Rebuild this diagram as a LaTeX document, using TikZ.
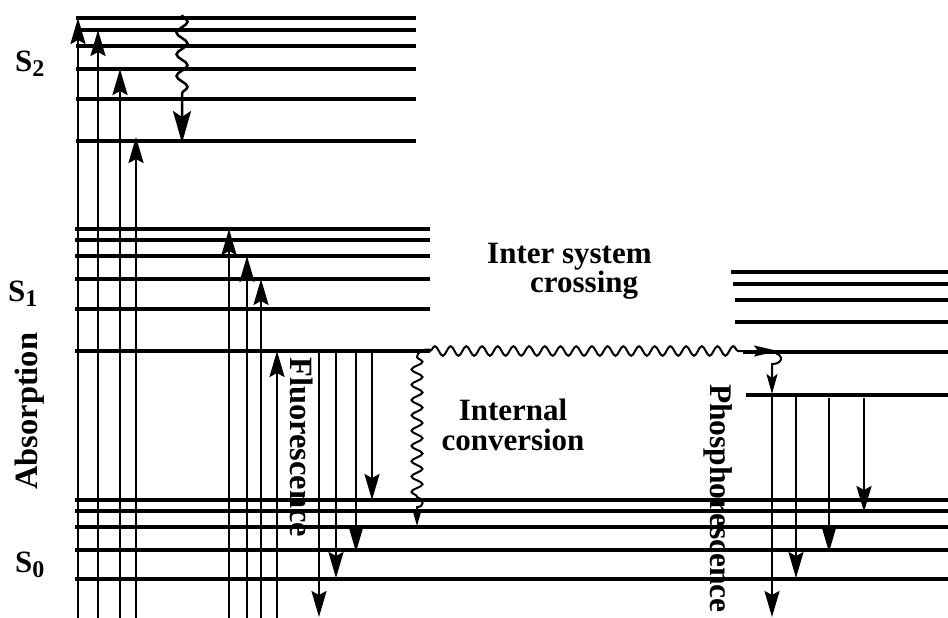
\documentclass[tikz,border=0pt]{standalone}
\usepackage{fontspec}
\setmainfont{Liberation Serif}
\usetikzlibrary{arrows.meta,decorations.pathmorphing}
\begin{document}
\begin{tikzpicture}[x=1pt,y=-1pt,
  lvl/.style={line width=3.5pt},
  arr/.style={line width=2.5pt,-{Stealth[length=26pt,width=15pt,inset=4pt]}},
  wavy/.style={line width=2pt},
  lbl/.style={font=\fontsize{31}{30}\selectfont\bfseries,inner sep=0pt},
  rlbl/.style={font=\fontsize{32.5}{30}\selectfont\bfseries,inner sep=0pt}
]
\useasboundingbox (0,0) rectangle (948,618);
\newcommand{\subnum}[1]{\raisebox{-5pt}{\fontsize{24}{24}\selectfont #1}}
% S2 levels
\foreach \y in {18,30,46,69,99,141} \draw[lvl] (76,\y) -- (416,\y);
% S1 levels
\foreach \y in {229,240,256,279,309,351} \draw[lvl] (75,\y) -- (430,\y);
% S0 levels
\foreach \y in {500,511,527,550,579} \draw[lvl] (75,\y) -- (948,\y);
% T1 levels
\draw[lvl] (731,272) -- (948,272);
\draw[lvl] (733,284) -- (948,284);
\draw[lvl] (735,300) -- (948,300);
\draw[lvl] (735,322) -- (948,322);
\draw[lvl] (743,352) -- (948,352);
\draw[lvl] (746,395) -- (948,395);
% absorption to S2
\draw[arr] (78,618) -- (78,18);
\draw[arr] (98,618) -- (98,30);
\draw[arr] (120,618) -- (120,69);
\draw[arr] (136,618) -- (136,137);
% absorption to S1
\draw[arr] (229,618) -- (229,229);
\draw[arr] (247,618) -- (247,256);
\draw[arr] (261,618) -- (261,279);
\draw[arr] (277,618) -- (277,351);
% fluorescence
\draw[arr] (319,351) -- (319,617);
\draw[arr] (336,351) -- (336,578);
\draw[arr] (356,351) -- (356,552);
\draw[arr] (372,351) -- (372,500);
% phosphorescence
\draw[arr] (772,395) -- (772,617);
\draw[arr] (796,395) -- (796,578);
\draw[arr] (829,398) -- (829,552);
\draw[arr] (864,398) -- (864,512);
% vibrational relaxation in S2
\draw[line width=2.5pt,-{Stealth[length=32pt,width=18pt,inset=6pt]}]
  (182,15) decorate[decoration={snake,amplitude=5.5pt,segment length=21.7pt}] {-- (182,97)} -- (182,143);
% internal conversion
\draw[wavy,-{Stealth[length=16pt,width=9pt,inset=3pt]}]
  (431,350) .. controls (424,348) and (417,352) .. (417,357)
  decorate[decoration={snake,amplitude=5.5pt,segment length=15.3pt}] {-- (417,497)}
  .. controls (425,500) and (424,507) .. (417,507) -- (417,526);
% inter system crossing
\draw[wavy,-{Stealth[length=24pt,width=11pt,inset=4pt]}]
  (430,351) decorate[decoration={snake,amplitude=4.8pt,segment length=15.7pt}] {-- (745,351)} -- (778,351);
\draw[wavy,-{Stealth[length=20pt,width=11pt,inset=4pt]}]
  (764,352) .. controls (784,350) and (786,364) .. (772,364) -- (772,394);
% labels
\node[lbl,anchor=base west] (s2) at (15,72) {S\subnum{2}};
\node[lbl,anchor=base west] (s1) at (8,301) {S\subnum{1}};
\node[lbl,anchor=base west] (s0) at (15,572) {S\subnum{0}};
\node[rlbl,rotate=90,anchor=base west] (abs) at (37,490) {Absorption};
\node[rlbl,rotate=-90,anchor=base west] (flu) at (290,357) {Fluorescence};
\node[lbl,font=\fontsize{31.5}{30}\selectfont\bfseries,rotate=-90,anchor=base west] (pho) at (710,384) {Phosphorescence};
\node[lbl,anchor=base west] (isc1) at (487,263) {Inter system};
\node[lbl,anchor=base west] (isc2) at (530,292) {crossing};
\node[lbl,anchor=base] (ic1) at (513,420) {Internal};
\node[lbl,anchor=base] (ic2) at (513,450) {conversion};
\end{tikzpicture}
\end{document}
